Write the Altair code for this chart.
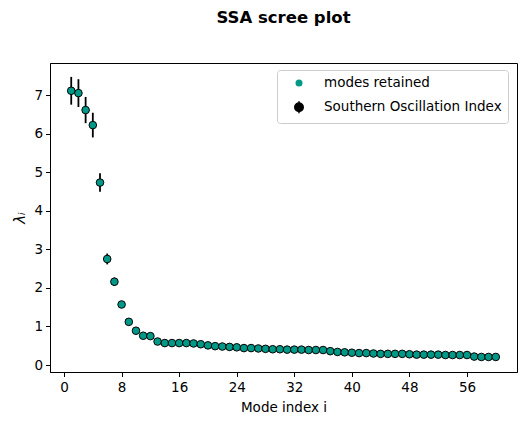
import altair as alt
import pandas as pd

modes = list(range(1, 61))
eigenvalues = [
    7.11, 7.05, 6.61, 6.22, 4.73, 2.75, 2.16, 1.57, 1.12, 0.89,
    0.76, 0.75, 0.61, 0.57, 0.57, 0.57, 0.57, 0.56, 0.54, 0.51,
    0.49, 0.48, 0.47, 0.46, 0.44, 0.44, 0.43, 0.42, 0.41, 0.41,
    0.40, 0.40, 0.40, 0.39, 0.39, 0.39, 0.36, 0.34, 0.33, 0.32,
    0.31, 0.31, 0.30, 0.29, 0.29, 0.29, 0.29, 0.28, 0.27, 0.27,
    0.27, 0.27, 0.26, 0.26, 0.26, 0.26, 0.22, 0.21, 0.21, 0.21,
]
errors = [
    0.36, 0.36, 0.34, 0.32, 0.24, 0.14, 0.11, 0.08, 0.06, 0.05,
    0.04, 0.04, 0.03, 0.03, 0.03, 0.03, 0.03, 0.03, 0.03, 0.03,
    0.03, 0.03, 0.03, 0.03, 0.02, 0.02, 0.02, 0.02, 0.02, 0.02,
    0.02, 0.02, 0.02, 0.02, 0.02, 0.02, 0.02, 0.02, 0.02, 0.02,
    0.02, 0.02, 0.02, 0.02, 0.02, 0.02, 0.02, 0.01, 0.01, 0.01,
    0.01, 0.01, 0.01, 0.01, 0.01, 0.01, 0.01, 0.01, 0.01, 0.01,
]
series_names = ["modes retained", "Southern Oscillation Index"]
x_ticks = [0, 8, 16, 24, 32, 40, 48, 56]
y_ticks = [0, 1, 2, 3, 4, 5, 6, 7]

TEAL = "#009988"
FONT = "DejaVu Sans"

df = pd.DataFrame({"mode": modes, "lam": eigenvalues, "err": errors})
df["lo"] = df["lam"] - df["err"]
df["hi"] = df["lam"] + df["err"]

legend_df = pd.DataFrame({
    "series": series_names,
    "mode": [modes[0], modes[0]],
    "lam": [eigenvalues[0], eigenvalues[0]],
})

xscale = alt.Scale(domain=[-1.95, 62.95], nice=False, zero=False)
yscale = alt.Scale(domain=[-0.18, 7.83], nice=False, zero=False)

xaxis = alt.Axis(values=x_ticks, title="Mode index i", grid=False)
yaxis = alt.Axis(values=y_ticks, title="λᵢ", grid=False,
                 titleFontStyle="italic", titleFontSize=15)

dot_path = "M-0.45,0A0.45,0.45 0 1,0 0.45,0A0.45,0.45 0 1,0 -0.45,0Z"
soi_path = ("M0,-1L0,1M-0.7,0A0.7,0.7 0 1,0 0.7,0A0.7,0.7 0 1,0 -0.7,0Z")

legend_layer = alt.Chart(legend_df).mark_point(filled=True, opacity=0).encode(
    x=alt.X("mode:Q", scale=xscale, axis=xaxis),
    y=alt.Y("lam:Q", scale=yscale, axis=yaxis),
    fill=alt.Fill("series:N", scale=alt.Scale(domain=series_names, range=[TEAL, "black"]),
                  legend=alt.Legend(title=None)),
    stroke=alt.Stroke("series:N", scale=alt.Scale(domain=series_names, range=[TEAL, "black"]),
                      legend=alt.Legend(title=None)),
    shape=alt.Shape("series:N", scale=alt.Scale(domain=series_names, range=[dot_path, soi_path]),
                    legend=alt.Legend(title=None)),
)

bars = alt.Chart(df).mark_rule(color="black", strokeWidth=1.8).encode(
    x=alt.X("mode:Q", scale=xscale, axis=xaxis),
    y=alt.Y("lo:Q", scale=yscale, axis=yaxis),
    y2="hi:Q",
)

points = alt.Chart(df).mark_point(
    filled=True, fill=TEAL, stroke="black", strokeWidth=1, size=58, opacity=1, shape="circle"
).encode(
    x=alt.X("mode:Q", scale=xscale, axis=xaxis),
    y=alt.Y("lam:Q", scale=yscale, axis=yaxis),
)

chart = alt.layer(legend_layer, bars, points).properties(
    width=467,
    height=309,
    autosize=alt.AutoSizeParams(type="none"),
    padding={"left": 42, "top": 55, "right": 1, "bottom": 44},
    title=alt.Title("SSA scree plot", font=FONT, fontSize=16.5, fontWeight="bold",
                    anchor="middle", color="black", baseline="alphabetic", offset=24),
).configure_view(
    stroke="black", strokeWidth=1
).configure_axis(
    labelFont=FONT, labelFontSize=13.5, labelColor="black",
    titleFont=FONT, titleFontSize=13.5, titleColor="black", titleFontWeight="normal",
    domainColor="black", tickColor="black", tickSize=4.5, tickWidth=1,
    labelPadding=4, domainWidth=1,
).configure_axisX(
    titlePadding=6,
).configure_axisY(
    titlePadding=6, labelPadding=3,
).configure_legend(
    orient="none", legendX=227, legendY=7,
    labelFont=FONT, labelFontSize=13.5, labelColor="black", labelLimit=400,
    padding=6, symbolOffset=9, labelOffset=18, rowPadding=7.3,
    symbolSize=144, symbolStrokeWidth=1.6, symbolOpacity=1,
    strokeColor="#cccccc", fillColor="rgba(255,255,255,0.8)", cornerRadius=3,
)

chart.save("out.html", embed_options={"renderer": "svg", "actions": False})
